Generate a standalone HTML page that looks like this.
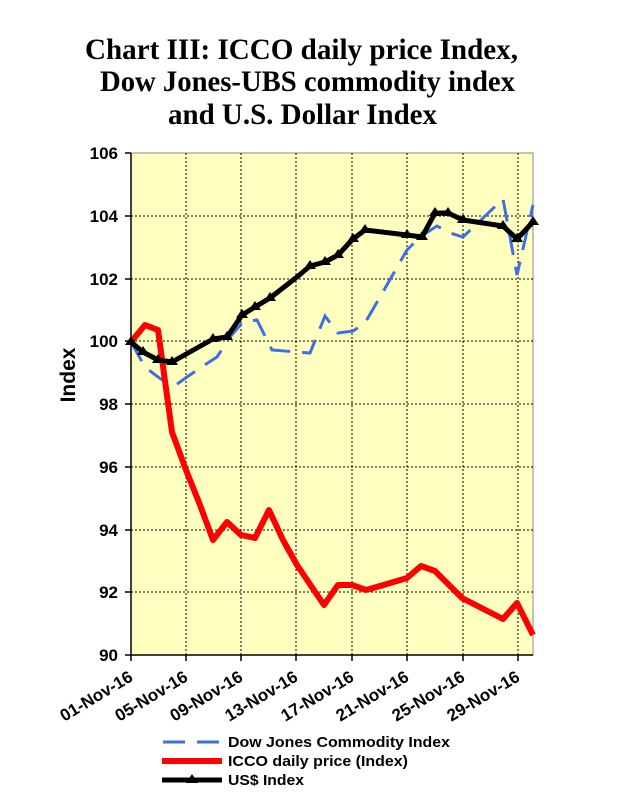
<!DOCTYPE html>
<html><head><meta charset="utf-8"><style>
html,body{margin:0;padding:0;background:#fff;}
svg{display:block;}
</style></head><body>
<svg width="621" height="799" viewBox="0 0 621 799" xmlns="http://www.w3.org/2000/svg">
<g font-family="Liberation Serif, serif" font-weight="bold" font-size="30" fill="#000">
<text x="85" y="59" textLength="433" lengthAdjust="spacingAndGlyphs">Chart III:  ICCO daily price Index,</text>
<text x="100" y="91" textLength="415" lengthAdjust="spacingAndGlyphs">Dow Jones-UBS commodity index</text>
<text x="168" y="124" textLength="269" lengthAdjust="spacingAndGlyphs">and U.S. Dollar Index</text>
</g>
<rect x="131" y="153" width="402" height="502" fill="#ffffc0" stroke="#888" stroke-width="1"/>
<g stroke="#000" stroke-width="1" stroke-dasharray="2,2">
<line x1="131" y1="216" x2="533" y2="216"/><line x1="131" y1="279" x2="533" y2="279"/>
<line x1="131" y1="341" x2="533" y2="341"/><line x1="131" y1="404" x2="533" y2="404"/>
<line x1="131" y1="467" x2="533" y2="467"/><line x1="131" y1="530" x2="533" y2="530"/>
<line x1="131" y1="592" x2="533" y2="592"/>
<line x1="186" y1="153" x2="186" y2="655"/><line x1="241" y1="153" x2="241" y2="655"/>
<line x1="296" y1="153" x2="296" y2="655"/><line x1="352" y1="153" x2="352" y2="655"/>
<line x1="407" y1="153" x2="407" y2="655"/><line x1="463" y1="153" x2="463" y2="655"/>
<line x1="518" y1="153" x2="518" y2="655"/>
</g>
<g stroke="#000" stroke-width="1.5">
<line x1="131" y1="153" x2="131" y2="656"/><line x1="130" y1="655" x2="533" y2="655"/>
<line x1="125" y1="153" x2="131" y2="153"/><line x1="125" y1="216" x2="131" y2="216"/>
<line x1="125" y1="279" x2="131" y2="279"/><line x1="125" y1="341" x2="131" y2="341"/>
<line x1="125" y1="404" x2="131" y2="404"/><line x1="125" y1="467" x2="131" y2="467"/>
<line x1="125" y1="530" x2="131" y2="530"/><line x1="125" y1="592" x2="131" y2="592"/>
<line x1="125" y1="655" x2="131" y2="655"/>
<line x1="131" y1="655" x2="131" y2="661"/><line x1="186" y1="655" x2="186" y2="661"/>
<line x1="241" y1="655" x2="241" y2="661"/><line x1="296" y1="655" x2="296" y2="661"/>
<line x1="352" y1="655" x2="352" y2="661"/><line x1="407" y1="655" x2="407" y2="661"/>
<line x1="463" y1="655" x2="463" y2="661"/><line x1="518" y1="655" x2="518" y2="661"/>
</g>
<g font-family="Liberation Sans, sans-serif" font-weight="bold" font-size="17" text-anchor="end" fill="#000">
<text x="118" y="159">106</text><text x="118" y="222">104</text><text x="118" y="285">102</text>
<text x="118" y="347">100</text><text x="118" y="410">98</text><text x="118" y="473">96</text>
<text x="118" y="536">94</text><text x="118" y="598">92</text><text x="118" y="661">90</text>
</g>
<text transform="translate(75,375) rotate(-90)" font-family="Liberation Sans, sans-serif" font-weight="bold" font-size="21" text-anchor="middle">Index</text>
<g font-family="Liberation Sans, sans-serif" font-weight="bold" font-size="17" text-anchor="end" fill="#000">
<text transform="translate(134,680) rotate(-31)">01-Nov-16</text>
<text transform="translate(189,680) rotate(-31)">05-Nov-16</text>
<text transform="translate(244,680) rotate(-31)">09-Nov-16</text>
<text transform="translate(299,680) rotate(-31)">13-Nov-16</text>
<text transform="translate(355,680) rotate(-31)">17-Nov-16</text>
<text transform="translate(410,680) rotate(-31)">21-Nov-16</text>
<text transform="translate(466,680) rotate(-31)">25-Nov-16</text>
<text transform="translate(521,680) rotate(-31)">29-Nov-16</text>
</g>
<polyline fill="none" stroke="#3f6fe0" stroke-width="3" stroke-dasharray="22,12" points="131,342 145,367 158,377 173,387 187,377 200,368 217,357 230,337 243,322 257,320 272,350 310,353 325,316 338,333 353,331 365,323 407,250 420,237 437,226 450,233 463,237 503,199 517,275 533,205"/>
<polyline fill="none" stroke="#ff0000" stroke-width="6" stroke-linejoin="round" points="131,342 145,325 158,330 172,432 186,470 200,505 213,540 227,522 241,535 255,538 269,510 283,540 297,565 324,605 338,585 352,585 366,590 380,586 407,578 421,566 435,571 462,598 503,619 517,603 533,635"/>
<polyline fill="none" stroke="#000" stroke-width="5" stroke-linejoin="round" points="131,342 143,352 158,360 172,362 213,339 227,337 242,315 255,307 270,298 297,277 310,266 325,262 338,255 353,239 365,230 407,235 422,237 435,213 448,213 463,220 503,226 517,239 533,222"/>
<g fill="#000">
<path d="M131,336 l6,9 h-12z"/><path d="M143,346 l6,9 h-12z"/><path d="M158,354 l6,9 h-12z"/><path d="M172,356 l6,9 h-12z"/>
<path d="M213,333 l6,9 h-12z"/><path d="M227,331 l6,9 h-12z"/><path d="M242,309 l6,9 h-12z"/><path d="M255,301 l6,9 h-12z"/>
<path d="M270,292 l6,9 h-12z"/><path d="M310,260 l6,9 h-12z"/><path d="M325,256 l6,9 h-12z"/><path d="M338,249 l6,9 h-12z"/>
<path d="M353,233 l6,9 h-12z"/><path d="M365,224 l6,9 h-12z"/><path d="M407,229 l6,9 h-12z"/><path d="M422,231 l6,9 h-12z"/>
<path d="M435,207 l6,9 h-12z"/><path d="M448,207 l6,9 h-12z"/><path d="M463,214 l6,9 h-12z"/><path d="M503,220 l6,9 h-12z"/>
<path d="M517,233 l6,9 h-12z"/><path d="M533,216 l6,9 h-12z"/>
</g>
<line x1="163" y1="742" x2="222" y2="742" stroke="#3f6fe0" stroke-width="3" stroke-dasharray="22,12"/>
<line x1="162" y1="761" x2="222" y2="761" stroke="#ff0000" stroke-width="6"/>
<line x1="162" y1="780" x2="222" y2="780" stroke="#000" stroke-width="5"/>
<path d="M192,774 l6,9 h-12z" fill="#000"/>
<g font-family="Liberation Sans, sans-serif" font-weight="bold" font-size="15" fill="#000">
<text x="228" y="747" textLength="222" lengthAdjust="spacingAndGlyphs">Dow Jones Commodity Index</text>
<text x="228" y="766" textLength="180" lengthAdjust="spacingAndGlyphs">ICCO daily price (Index)</text>
<text x="228" y="785" textLength="76" lengthAdjust="spacingAndGlyphs">US$ Index</text>
</g>
</svg>
</body></html>
